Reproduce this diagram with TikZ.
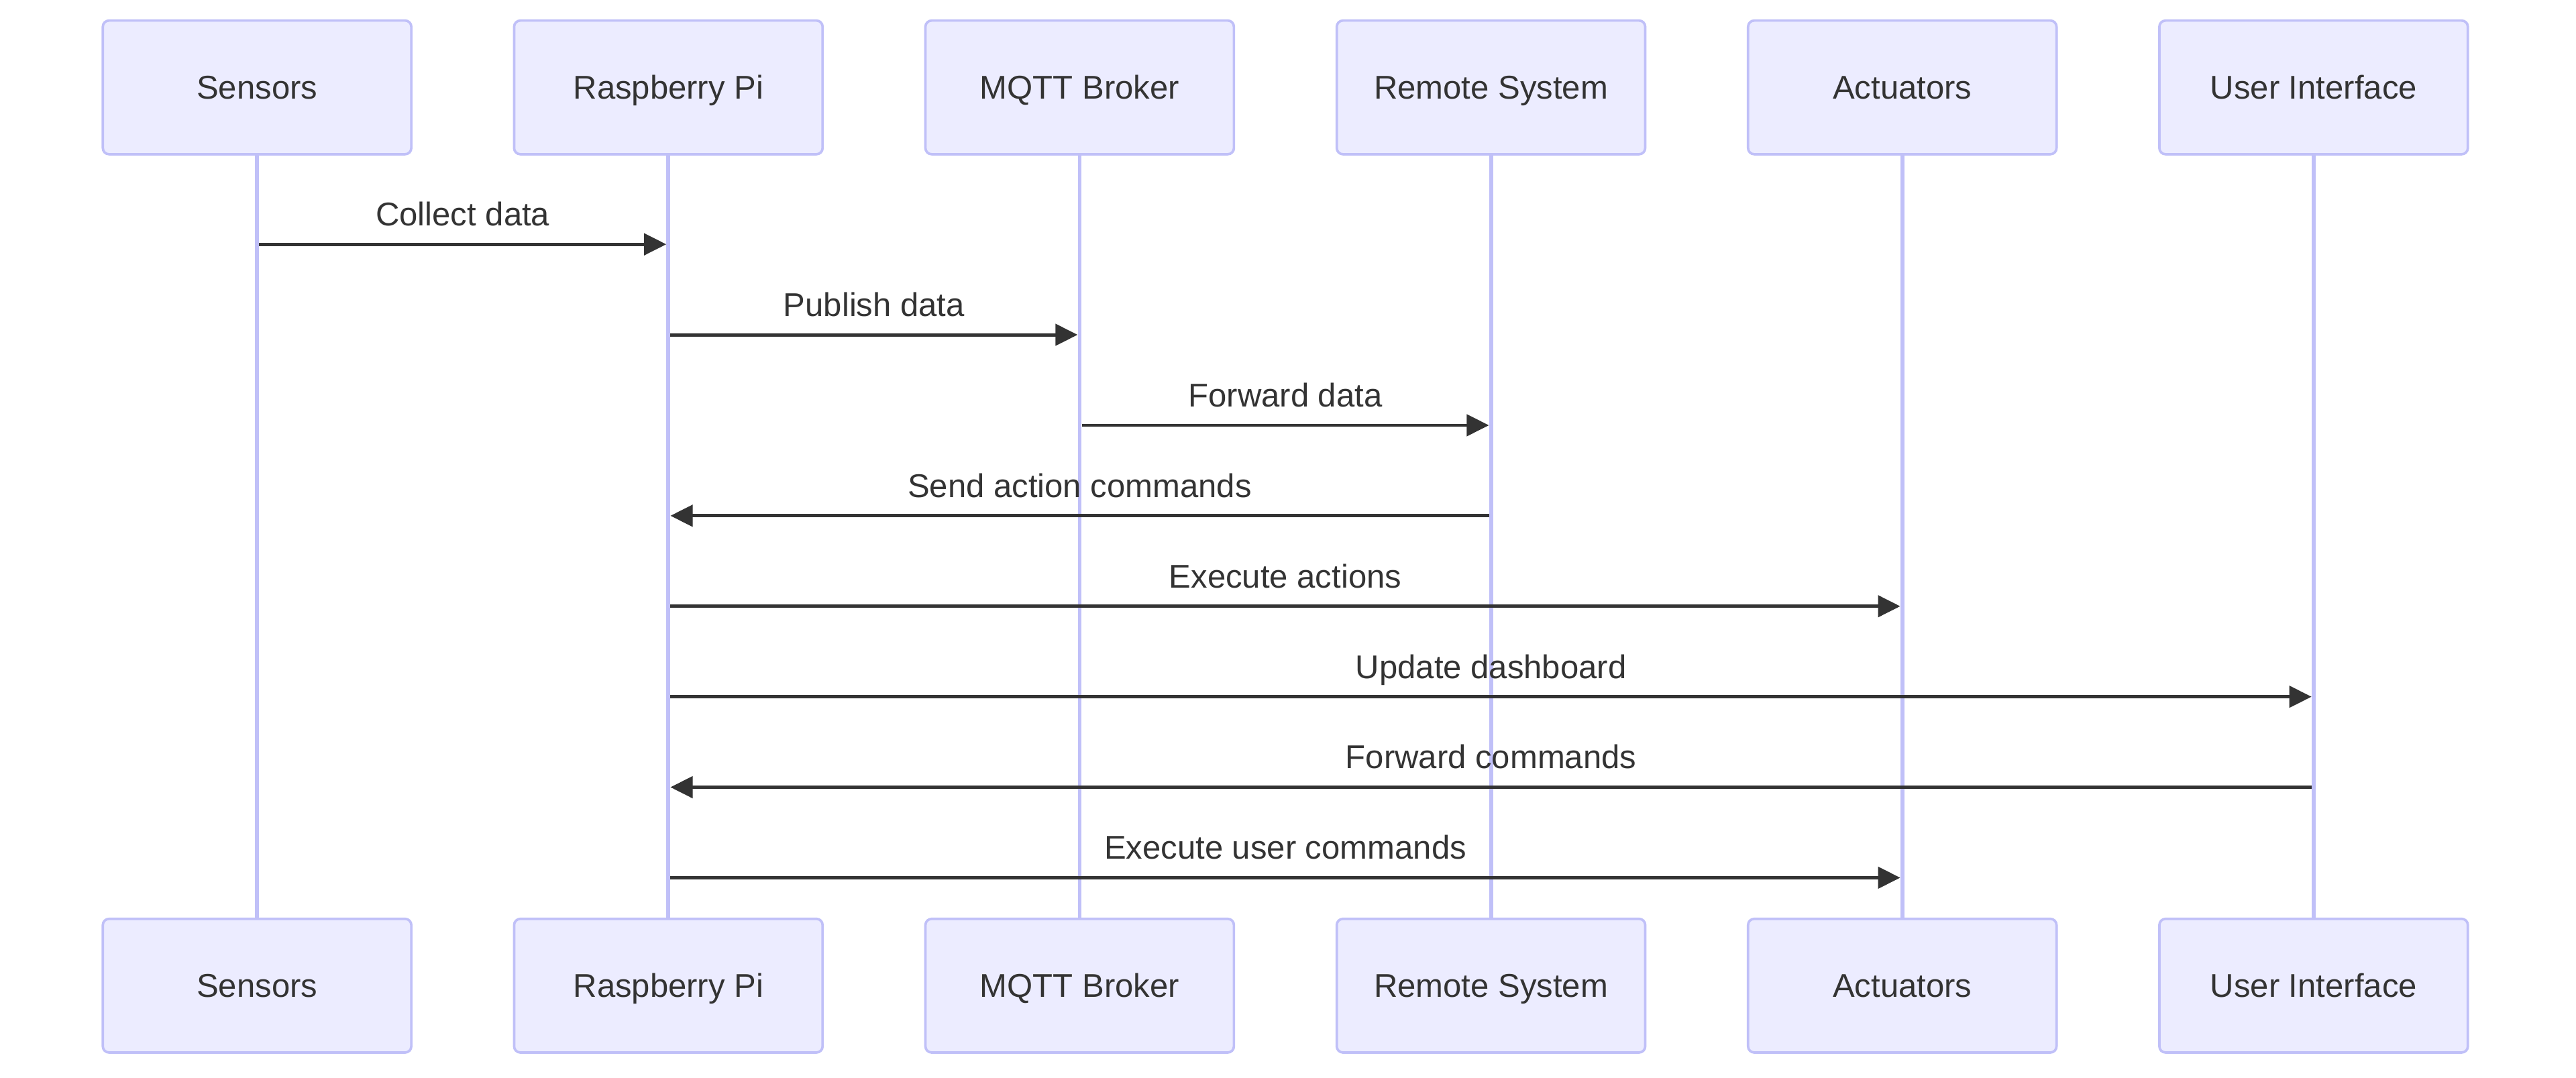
\documentclass[tikz,border=0pt]{standalone}
\usepackage{fontspec}
\setmainfont{Liberation Sans}
\usetikzlibrary{arrows.meta}
\definecolor{actfill}{HTML}{ECECFF}
\definecolor{actline}{HTML}{C0C0F8}
\definecolor{ink}{HTML}{333333}
\tikzset{
  actor/.style={draw=actline, line width=1.2pt, fill=actfill, rounded corners=3pt,
    minimum width=150pt, minimum height=65pt, inner sep=0pt, text=ink,
    font=\fontsize{16pt}{19pt}\selectfont, text height=11.45pt, text depth=0pt},
  lifeline/.style={draw=actline, line width=1.9pt},
  msg/.style={draw=ink, line width=1.6pt, shorten >=1pt, shorten <=1pt,
    -{Triangle[length=10.8pt,width=10.4pt]}},
  lbl/.style={text=ink, font=\fontsize{16pt}{19pt}\selectfont, inner sep=0pt, anchor=base}
}
\begin{document}
\begin{tikzpicture}[x=1pt,y=-1pt]
\useasboundingbox (-50,-10) rectangle (1202.6,514.2);
\foreach \nm [count=\i] in {Sensors,Raspberry Pi,MQTT Broker,Remote System,Actuators,User Interface}{
  \node[actor] (t\i) at ({75+200*(\i-1)},32.5) {\nm};
  \node[actor] (b\i) at ({75+200*(\i-1)},469.3) {\nm};
}
\foreach \i in {1,...,6}{
  \draw[lifeline] (t\i.south) -- (b\i.north);
}
\foreach \a/\b/\yy/\txt [count=\n] in {
  1/2/108.8/{Collect data},
  2/3/152.8/{Publish data},
  3/4/196.8/{Forward data},
  4/2/240.8/{Send action commands},
  2/5/284.8/{Execute actions},
  2/6/328.8/{Update dashboard},
  6/2/372.8/{Forward commands},
  2/5/416.8/{Execute user commands}}{
  \coordinate (s\n) at (t\a.south |- 0,\yy);
  \coordinate (e\n) at (t\b.south |- 0,\yy);
  \draw[msg] (s\n) -- (e\n);
  \path (s\n) -- (e\n) node[lbl, midway, yshift=9pt] (l\n) {\txt};
}
\end{tikzpicture}
\end{document}
